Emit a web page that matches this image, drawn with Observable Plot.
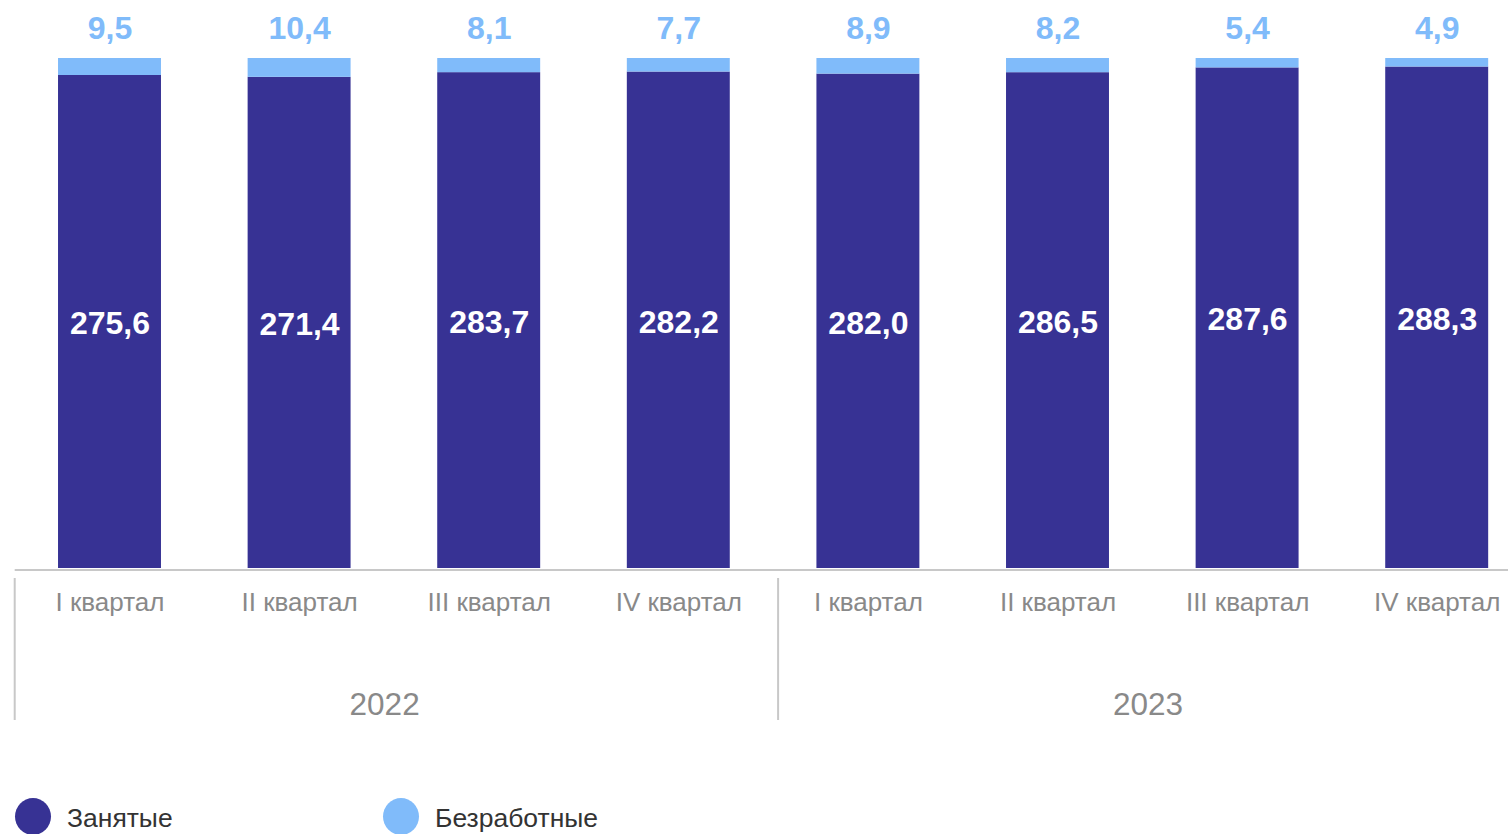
<!DOCTYPE html>
<html>
<head>
<meta charset="utf-8">
<script src="https://cdn.jsdelivr.net/npm/d3@7"></script>
<script src="https://cdn.jsdelivr.net/npm/@observablehq/plot@0.6"></script>
<style>
  html, body { margin: 0; padding: 0; background: #fff; overflow: hidden; width: 1508px; height: 834px; }
  #chart { width: 1508px; overflow: hidden; }
  #chart svg { display: block; max-width: none !important; font-family: "Liberation Sans", Arial, sans-serif; }
  .legend { display: flex; align-items: center; padding-top: 53px; padding-left: 15px; font-family: "Liberation Sans", Arial, sans-serif; font-size: 26.5px; color: #333; }
  .legend .item { display: flex; align-items: center; }
  .legend .sw { width: 36px; height: 37px; border-radius: 50%; margin-right: 16px; }
</style>
</head>
<body>
<div id="chart"></div>
<div class="legend">
  <div class="item" style="width:368px"><span class="sw" style="background:#373294"></span><span style="position:relative;top:2px">Занятые</span></div>
  <div class="item"><span class="sw" style="background:#80bbfa"></span><span style="position:relative;top:2px">Безработные</span></div>
</div>
<script>
const years = ["2022", "2022", "2022", "2022", "2023", "2023", "2023", "2023"];
const quarters = ["I квартал", "II квартал", "III квартал", "IV квартал", "I квартал", "II квартал", "III квартал", "IV квартал"];
const employed = [275.6, 271.4, 283.7, 282.2, 282.0, 286.5, 287.6, 288.3];
const unemployed = [9.5, 10.4, 8.1, 7.7, 8.9, 8.2, 5.4, 4.9];
const seriesNames = ["Занятые", "Безработные"];
const seriesColors = ["#373294", "#80bbfa"];

const keys = quarters.map((q, i) => `${q}|${years[i]}`);
const data = [
  ...keys.map((k, i) => ({key: k, series: seriesNames[0], value: employed[i]})),
  ...keys.map((k, i) => ({key: k, series: seriesNames[1], value: unemployed[i]}))
];
const fmt = v => v.toFixed(1).replace(".", ",");

const plot = Plot.plot({
  width: 1532,
  height: 745,
  marginLeft: 14.7,
  marginRight: 0.5,
  marginTop: 58,
  marginBottom: 177,
  style: {fontFamily: "'Liberation Sans', Arial, sans-serif", background: "transparent"},
  x: {domain: keys, paddingInner: 0.457, paddingOuter: 0.2285, round: false, axis: null},
  y: {domain: [0, 1], axis: null},
  color: {domain: seriesNames, range: seriesColors},
  marks: [
    Plot.barY(data, Plot.stackY({offset: "normalize", order: null}, {x: "key", y: "value", z: "series", fill: "series"})),
    Plot.ruleY([0], {stroke: "#c8c8c8", strokeWidth: 2, dy: 1.5}),
    Plot.text(data, Plot.stackY({offset: "normalize", order: null}, {
      x: "key", y: "value", z: "series",
      text: d => d.series === seriesNames[0] ? fmt(d.value) : null,
      fill: "#ffffff", fontSize: 32, fontWeight: "bold", dy: 2
    })),
    Plot.text(data, Plot.stackY2({offset: "normalize", order: null}, {
      x: "key", y: "value", z: "series",
      text: d => d.series === seriesNames[1] ? fmt(d.value) : null,
      fill: "#80bbfa", fontSize: 32, fontWeight: "bold", dy: -30
    })),
    Plot.axisX({tickSize: 0, tickPadding: 24, fontSize: 26, fill: "#898989", label: null, tickFormat: d => d.split("|")[0]}),
    Plot.text([years[1]], {x: [keys[1]], text: d => d, frameAnchor: "bottom", dx: 85, dy: 146, fontSize: 31.5, fill: "#898989"}),
    Plot.text([years[5]], {x: [keys[5]], text: d => d, frameAnchor: "bottom", dx: 90, dy: 146, fontSize: 31.5, fill: "#898989"})
  ]
});
document.getElementById("chart").appendChild(plot);

// year-group separators at band boundaries, positioned with the x scale
const xs = plot.scale("x");
const yBase = plot.scale("y").apply(0);
const seps = [{key: keys[0], off: 0}, {key: keys[4], off: 5}];
const boundary = k => xs.apply(k) + xs.bandwidth / 2 - xs.step / 2;
d3.select(plot).append("g")
  .attr("stroke", "#c8c8c8").attr("stroke-width", 2)
  .selectAll("line").data(seps).join("line")
  .attr("x1", d => boundary(d.key) + d.off)
  .attr("x2", d => boundary(d.key) + d.off)
  .attr("y1", yBase + 10)
  .attr("y2", yBase + 152);
</script>
</body>
</html>
